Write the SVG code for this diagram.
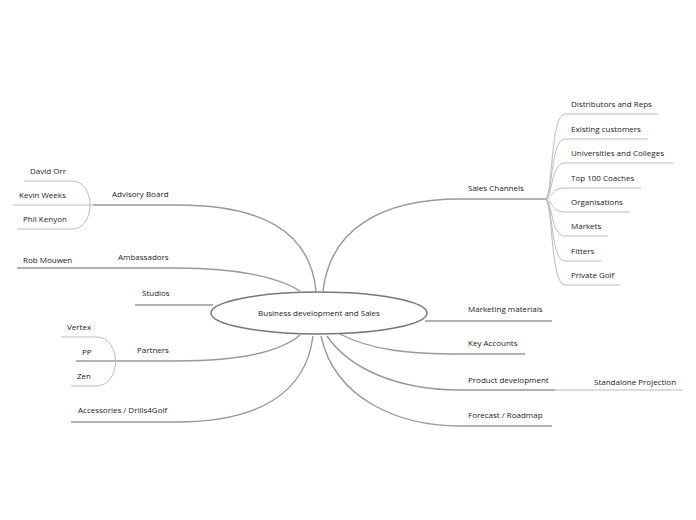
<svg xmlns="http://www.w3.org/2000/svg" width="696" height="520" viewBox="0 0 696 520">
<style>
text{font-family:"Open Sans","Liberation Sans",sans-serif;font-size:8px;fill:#222}
.m{fill:none;stroke:#999;stroke-width:1.4}
.s{fill:none;stroke:#bbb;stroke-width:1}
</style>
<rect width="696" height="520" fill="#fff"/>
<g id="connectors">
<path class="m" d="M93,205H177C260,205 310,230 316,291"/>
<path class="m" d="M17,268H177C240,268 280,278 300,291"/>
<path class="m" d="M135,305H213"/>
<path class="m" d="M76,361H177C240,361 280,352 300,335"/>
<path class="m" d="M71,422H177C260,422 306,392 313,336"/>
<path class="m" d="M323,291C330,230 380,199 460,199H545"/>
<path class="m" d="M425,321H552"/>
<path class="m" d="M340,334C370,350 410,354 460,354H525"/>
<path class="m" d="M327,336C350,370 400,390 460,390H555"/>
<path class="m" d="M321,336C335,400 400,426 460,426H552"/>
<path class="s" d="M555,390H683"/>
<path class="s" d="M13,205H93"/>
<path class="s" d="M24,181H72C96,181 96,229 72,229H17"/>
<path class="s" d="M61,337H96C122,337 122,386 96,386H71"/>
<path class="s" d="M86,361H117"/>
<g class="s">
<path d="M545,199C553,199 550,114 565,114H658"/>
<path d="M545,199C553,199 550,139 565,139H648"/>
<path d="M545,199C553,199 550,163 565,163H673"/>
<path d="M545,199C553,199 550,188 565,188H641"/>
<path d="M545,199C553,199 550,212 565,212H630"/>
<path d="M545,199C553,199 550,236 565,236H608"/>
<path d="M545,199C553,199 550,261 565,261H601"/>
<path d="M545,199C553,199 550,285 565,285H620"/>
</g>
</g>
<g id="center"><ellipse cx="319" cy="313" rx="108" ry="21" fill="#fff" stroke="#777" stroke-width="1.5"/><text x="319" y="316" text-anchor="middle">Business development and Sales</text></g>
<g id="advisory"><text x="112" y="197">Advisory Board</text></g>
<g id="david"><text x="30" y="174">David Orr</text></g>
<g id="kevin"><text x="19" y="198">Kevin Weeks</text></g>
<g id="phil"><text x="23" y="222">Phil Kenyon</text></g>
<g id="ambassadors"><text x="118" y="260">Ambassadors</text></g>
<g id="rob"><text x="23" y="263">Rob Mouwen</text></g>
<g id="studios"><text x="142" y="296">Studios</text></g>
<g id="partners"><text x="137" y="353">Partners</text></g>
<g id="vertex"><text x="67" y="330">Vertex</text></g>
<g id="pp"><text x="82" y="355">PP</text></g>
<g id="zen"><text x="77" y="379">Zen</text></g>
<g id="accessories"><text x="78" y="413">Accessories / Drills4Golf</text></g>
<g id="sales"><text x="468" y="191">Sales Channels</text></g>
<g id="distributors"><text x="571" y="107">Distributors and Reps</text></g>
<g id="existing"><text x="571" y="132">Existing customers</text></g>
<g id="universities"><text x="571" y="156">Universities and Colleges</text></g>
<g id="top100"><text x="571" y="181">Top 100 Coaches</text></g>
<g id="organisations"><text x="571" y="205">Organisations</text></g>
<g id="markets"><text x="571" y="229">Markets</text></g>
<g id="fitters"><text x="571" y="254">Fitters</text></g>
<g id="private"><text x="571" y="278">Private Golf</text></g>
<g id="marketing"><text x="468" y="312">Marketing materials</text></g>
<g id="key"><text x="468" y="346">Key Accounts</text></g>
<g id="product"><text x="468" y="383">Product development</text></g>
<g id="standalone"><text x="594" y="385">Standalone Projection</text></g>
<g id="forecast"><text x="468" y="418">Forecast / Roadmap</text></g>
</svg>
